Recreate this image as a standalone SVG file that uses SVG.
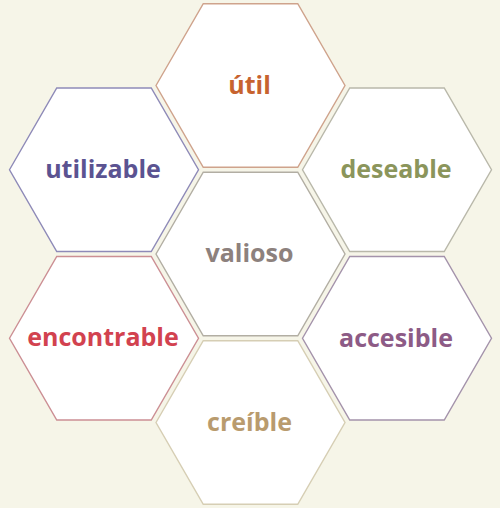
<svg xmlns="http://www.w3.org/2000/svg" width="500" height="508" viewBox="0 0 500 508">
  <style>
    .hex { fill: #ffffff; stroke-width: 1.4; }
    .lbl { font-family: "Open Sans", "Noto Sans", "DejaVu Sans", sans-serif; font-weight: 700; font-size: 25px; text-anchor: middle; }
  </style>
  <defs>
    <!-- regular flat-topped hexagon, circumradius 94.5, centred on the origin -->
    <polygon id="hexShape" points="-94.5,0 -47.25,-81.8 47.25,-81.8 94.5,0 47.25,81.8 -47.25,81.8"/>
  </defs>

  <rect width="500" height="508" fill="#f6f5e8"/>

  <g id="connectors"/>

  <g id="node-util">
    <use href="#hexShape" class="hex" stroke="#cfa38c" x="250.5" y="85.5"/>
    <text class="lbl" x="249.5" y="93.5" fill="#c7632f">útil</text>
  </g>

  <g id="node-utilizable">
    <use href="#hexShape" class="hex" stroke="#8e8ab8" x="104" y="169.75"/>
    <text class="lbl" x="103" y="177.5" fill="#5b5391">utilizable</text>
  </g>

  <g id="node-deseable">
    <use href="#hexShape" class="hex" stroke="#b9b8aa" x="397" y="169.75"/>
    <text class="lbl" x="396" y="177.5" fill="#8b955b">deseable</text>
  </g>

  <g id="node-valioso">
    <use href="#hexShape" class="hex" stroke="#b2aea3" x="250.5" y="254"/>
    <text class="lbl" x="249.5" y="262" fill="#8d817d">valioso</text>
  </g>

  <g id="node-encontrable">
    <use href="#hexShape" class="hex" stroke="#cc8f94" x="104" y="338.25"/>
    <text class="lbl" x="103" y="346" fill="#d2424f">encontrable</text>
  </g>

  <g id="node-accesible">
    <use href="#hexShape" class="hex" stroke="#a493ab" x="397" y="338.25"/>
    <text class="lbl" x="396" y="346.5" fill="#8d5b86">accesible</text>
  </g>

  <g id="node-creible">
    <use href="#hexShape" class="hex" stroke="#d6ceb4" x="250.5" y="422.5"/>
    <text class="lbl" x="249.5" y="430.5" fill="#b99b6e">creíble</text>
  </g>
</svg>
